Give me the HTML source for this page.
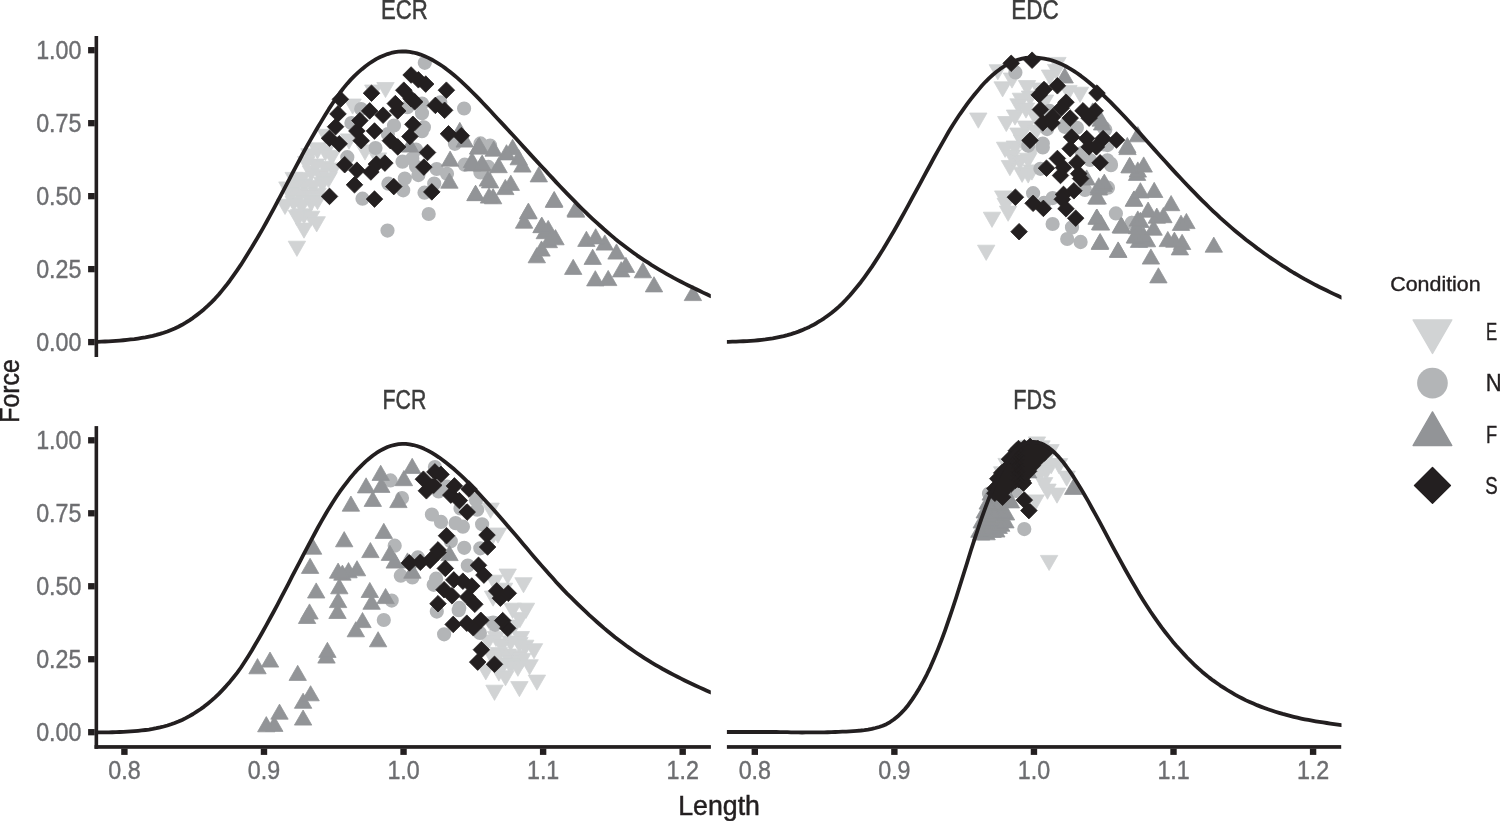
<!DOCTYPE html>
<html><head><meta charset="utf-8"><title>Force-Length</title>
<style>html,body{margin:0;padding:0;background:#fff;overflow:hidden}svg{display:block;will-change:transform}text{font-family:"Liberation Sans",sans-serif}</style></head><body>
<svg width="1500" height="821" viewBox="0 0 1500 821">
<rect width="1500" height="821" fill="#fff"/>
<defs><clipPath id="cl"><rect x="96.5" y="0" width="614.3" height="821"/></clipPath><clipPath id="cr"><rect x="726.9" y="0" width="614.6" height="821"/></clipPath></defs>
<g id="ECR">
<path fill="#d1d3d4" stroke="#d1d3d4" stroke-width="0.8" stroke-linejoin="round" d="M317.5 159.1L326.2 143.9L308.7 143.9ZM325.4 160.7L334.1 145.5L316.6 145.5ZM331.7 165.4L340.5 150.3L323.0 150.3ZM309.6 163.8L318.3 148.7L300.8 148.7ZM306.4 171.7L315.1 156.6L297.6 156.6ZM315.9 174.1L324.6 159.0L307.1 159.0ZM325.4 176.5L334.1 161.3L316.6 161.3ZM333.3 178.1L342.0 162.9L324.5 162.9ZM311.1 181.2L319.9 166.1L302.4 166.1ZM287.4 197.1L296.2 181.9L278.7 181.9ZM295.3 195.5L304.1 180.3L286.6 180.3ZM304.0 193.9L312.8 178.7L295.3 178.7ZM312.7 195.5L321.5 180.3L304.0 180.3ZM322.2 192.3L331.0 177.2L313.5 177.2ZM328.5 187.6L337.3 172.4L319.8 172.4ZM290.6 203.4L299.3 188.2L281.8 188.2ZM300.1 203.4L308.8 188.2L291.3 188.2ZM309.6 205.0L318.3 189.8L300.8 189.8ZM317.5 203.4L326.2 188.2L308.7 188.2ZM285.0 214.5L293.8 199.3L276.3 199.3ZM293.7 211.3L302.5 196.2L285.0 196.2ZM301.6 214.5L310.4 199.3L292.9 199.3ZM311.1 211.3L319.9 196.2L302.4 196.2ZM317.5 209.7L326.2 194.6L308.7 194.6ZM296.9 225.5L305.6 210.4L288.2 210.4ZM304.0 224.0L312.8 208.8L295.3 208.8ZM311.1 226.3L319.9 211.2L302.4 211.2ZM316.7 231.9L325.4 216.7L307.9 216.7ZM304.0 238.2L312.8 223.1L295.3 223.1ZM299.3 224.8L308.0 209.6L290.5 209.6ZM296.9 256.4L305.6 241.2L288.2 241.2ZM320.6 184.4L329.4 169.3L311.9 169.3ZM301.6 187.6L310.4 172.4L292.9 172.4ZM293.7 187.6L302.5 172.4L285.0 172.4ZM385.5 97.6L394.2 82.5L376.8 82.5ZM352.6 114.1L361.3 99.0L343.9 99.0ZM373.3 100.1L382.0 85.0L364.6 85.0ZM325.8 144.5L334.5 129.3L317.1 129.3ZM317.3 157.9L326.0 142.8L308.6 142.8ZM349.0 149.1L357.7 133.9L340.3 133.9ZM365.0 160.1L373.7 144.9L356.3 144.9ZM378.0 168.1L386.7 152.9L369.3 152.9Z"/>
<path fill="#b3b5b7" d="M417.7 62.8a7.1 7.1 0 1 0 14.2 0a7.1 7.1 0 1 0 -14.2 0ZM457.0 108.5a7.1 7.1 0 1 0 14.2 0a7.1 7.1 0 1 0 -14.2 0ZM354.1 109.1a7.1 7.1 0 1 0 14.2 0a7.1 7.1 0 1 0 -14.2 0ZM344.3 123.1a7.1 7.1 0 1 0 14.2 0a7.1 7.1 0 1 0 -14.2 0ZM400.3 107.2a7.1 7.1 0 1 0 14.2 0a7.1 7.1 0 1 0 -14.2 0ZM414.9 103.6a7.1 7.1 0 1 0 14.2 0a7.1 7.1 0 1 0 -14.2 0ZM414.9 113.3a7.1 7.1 0 1 0 14.2 0a7.1 7.1 0 1 0 -14.2 0ZM416.8 127.3a7.1 7.1 0 1 0 14.2 0a7.1 7.1 0 1 0 -14.2 0ZM386.9 125.5a7.1 7.1 0 1 0 14.2 0a7.1 7.1 0 1 0 -14.2 0ZM380.8 134.0a7.1 7.1 0 1 0 14.2 0a7.1 7.1 0 1 0 -14.2 0ZM368.4 148.0a7.1 7.1 0 1 0 14.2 0a7.1 7.1 0 1 0 -14.2 0ZM433.2 102.4a7.1 7.1 0 1 0 14.2 0a7.1 7.1 0 1 0 -14.2 0ZM447.8 143.8a7.1 7.1 0 1 0 14.2 0a7.1 7.1 0 1 0 -14.2 0ZM421.6 214.0a7.1 7.1 0 1 0 14.2 0a7.1 7.1 0 1 0 -14.2 0ZM380.4 230.6a7.1 7.1 0 1 0 14.2 0a7.1 7.1 0 1 0 -14.2 0ZM355.4 198.7a7.1 7.1 0 1 0 14.2 0a7.1 7.1 0 1 0 -14.2 0ZM381.3 183.7a7.1 7.1 0 1 0 14.2 0a7.1 7.1 0 1 0 -14.2 0ZM396.1 190.3a7.1 7.1 0 1 0 14.2 0a7.1 7.1 0 1 0 -14.2 0ZM397.7 178.5a7.1 7.1 0 1 0 14.2 0a7.1 7.1 0 1 0 -14.2 0ZM417.4 192.7a7.1 7.1 0 1 0 14.2 0a7.1 7.1 0 1 0 -14.2 0ZM340.2 157.2a7.1 7.1 0 1 0 14.2 0a7.1 7.1 0 1 0 -14.2 0ZM395.4 161.7a7.1 7.1 0 1 0 14.2 0a7.1 7.1 0 1 0 -14.2 0ZM405.2 158.6a7.1 7.1 0 1 0 14.2 0a7.1 7.1 0 1 0 -14.2 0ZM408.9 166.5a7.1 7.1 0 1 0 14.2 0a7.1 7.1 0 1 0 -14.2 0ZM411.3 175.1a7.1 7.1 0 1 0 14.2 0a7.1 7.1 0 1 0 -14.2 0ZM429.6 169.0a7.1 7.1 0 1 0 14.2 0a7.1 7.1 0 1 0 -14.2 0ZM439.9 173.8a7.1 7.1 0 1 0 14.2 0a7.1 7.1 0 1 0 -14.2 0ZM427.1 183.6a7.1 7.1 0 1 0 14.2 0a7.1 7.1 0 1 0 -14.2 0ZM457.6 164.7a7.1 7.1 0 1 0 14.2 0a7.1 7.1 0 1 0 -14.2 0ZM473.4 143.4a7.1 7.1 0 1 0 14.2 0a7.1 7.1 0 1 0 -14.2 0ZM473.4 171.4a7.1 7.1 0 1 0 14.2 0a7.1 7.1 0 1 0 -14.2 0ZM414.9 131.2a7.1 7.1 0 1 0 14.2 0a7.1 7.1 0 1 0 -14.2 0ZM408.9 149.5a7.1 7.1 0 1 0 14.2 0a7.1 7.1 0 1 0 -14.2 0ZM473.3 143.7a7.1 7.1 0 1 0 14.2 0a7.1 7.1 0 1 0 -14.2 0ZM483.0 145.6a7.1 7.1 0 1 0 14.2 0a7.1 7.1 0 1 0 -14.2 0ZM481.2 166.9a7.1 7.1 0 1 0 14.2 0a7.1 7.1 0 1 0 -14.2 0ZM473.3 172.4a7.1 7.1 0 1 0 14.2 0a7.1 7.1 0 1 0 -14.2 0Z"/>
<path fill="#929497" stroke="#929497" stroke-width="0.8" stroke-linejoin="round" d="M459.8 122.3L468.5 137.5L451.1 137.5ZM479.3 137.5L488.0 152.7L470.6 152.7ZM464.7 131.9L473.4 147.1L456.0 147.1ZM409.9 136.9L418.6 152.1L401.2 152.1ZM450.1 151.1L458.8 166.2L441.4 166.2ZM449.4 173.0L458.1 188.2L440.7 188.2ZM475.6 185.2L484.3 200.4L466.9 200.4ZM472.0 152.3L480.7 167.5L463.3 167.5ZM481.7 155.9L490.4 171.1L473.0 171.1ZM478.1 138.9L486.8 154.1L469.4 154.1ZM487.8 170.9L496.5 186.1L479.1 186.1ZM489.0 187.9L497.7 203.1L480.3 203.1ZM478.5 138.6L487.2 153.8L469.8 153.8ZM493.7 141.1L502.4 156.2L485.0 156.2ZM512.6 139.3L521.3 154.5L503.9 154.5ZM506.5 144.7L515.2 159.9L497.8 159.9ZM518.7 149.6L527.4 164.8L510.0 164.8ZM522.4 156.9L531.1 172.1L513.7 172.1ZM482.2 155.1L490.9 170.2L473.5 170.2ZM498.6 157.5L507.3 172.7L489.9 172.7ZM472.4 155.7L481.1 170.9L463.7 170.9ZM538.8 166.7L547.5 181.9L530.1 181.9ZM490.1 172.7L498.8 187.9L481.4 187.9ZM510.8 175.2L519.5 190.4L502.1 190.4ZM505.3 179.4L514.0 194.6L496.6 194.6ZM475.5 185.5L484.2 200.7L466.8 200.7ZM493.1 188.6L501.8 203.8L484.4 203.8ZM554.0 192.2L562.7 207.4L545.3 207.4ZM528.5 203.2L537.2 218.4L519.8 218.4ZM576.0 202.0L584.7 217.2L567.3 217.2ZM541.9 217.2L550.6 232.4L533.2 232.4ZM528.1 203.7L536.8 218.9L519.4 218.9ZM554.2 191.4L562.9 206.6L545.5 206.6ZM575.6 201.0L584.3 216.2L566.9 216.2ZM524.1 213.1L532.8 228.2L515.4 228.2ZM541.5 217.5L550.2 232.7L532.8 232.7ZM548.2 220.4L556.9 235.6L539.5 235.6ZM544.8 223.5L553.5 238.7L536.1 238.7ZM555.5 229.6L564.2 244.8L546.8 244.8ZM548.8 232.5L557.5 247.7L540.1 247.7ZM541.5 240.9L550.2 256.1L532.8 256.1ZM536.8 247.6L545.5 262.8L528.1 262.8ZM586.4 231.2L595.1 246.4L577.7 246.4ZM595.7 228.7L604.4 243.9L587.0 243.9ZM604.8 234.9L613.5 250.1L596.1 250.1ZM616.5 243.9L625.2 259.1L607.8 259.1ZM592.7 249.2L601.4 264.4L584.0 264.4ZM573.2 259.3L581.9 274.4L564.5 274.4ZM625.9 257.3L634.6 272.4L617.2 272.4ZM621.2 261.7L629.9 276.9L612.5 276.9ZM595.3 270.7L604.0 285.9L586.6 285.9ZM608.2 270.4L616.9 285.6L599.5 285.6ZM642.9 262.6L651.6 277.8L634.2 277.8ZM654.0 276.7L662.7 291.9L645.3 291.9ZM692.9 285.4L701.6 300.6L684.2 300.6Z"/>
<path fill="#231f20" stroke="#231f20" stroke-width="0.8" stroke-linejoin="round" d="M340.4 91.0L348.7 99.3L340.4 107.6L332.1 99.3ZM371.5 84.9L379.8 93.2L371.5 101.5L363.2 93.2ZM338.0 105.6L346.3 113.9L338.0 122.2L329.7 113.9ZM335.6 118.4L343.9 126.7L335.6 135.0L327.3 126.7ZM329.5 130.0L337.8 138.3L329.5 146.6L321.2 138.3ZM339.2 135.5L347.5 143.8L339.2 152.1L330.9 143.8ZM369.7 102.6L378.0 110.9L369.7 119.2L361.4 110.9ZM359.9 112.3L368.2 120.6L359.9 128.9L351.6 120.6ZM383.1 106.9L391.4 115.2L383.1 123.5L374.8 115.2ZM356.9 122.7L365.2 131.0L356.9 139.3L348.6 131.0ZM374.5 122.7L382.8 131.0L374.5 139.3L366.2 131.0ZM361.2 132.4L369.5 140.7L361.2 149.0L352.9 140.7ZM411.1 66.7L419.4 75.0L411.1 83.3L402.8 75.0ZM418.4 71.5L426.7 79.8L418.4 88.1L410.1 79.8ZM425.7 75.8L434.0 84.1L425.7 92.4L417.4 84.1ZM403.8 81.9L412.1 90.2L403.8 98.5L395.5 90.2ZM411.1 90.4L419.4 98.7L411.1 107.0L402.8 98.7ZM395.3 95.3L403.6 103.6L395.3 111.9L387.0 103.6ZM397.7 102.6L406.0 110.9L397.7 119.2L389.4 110.9ZM414.7 93.5L423.0 101.8L414.7 110.1L406.4 101.8ZM446.4 81.9L454.7 90.2L446.4 98.5L438.1 90.2ZM435.4 97.1L443.7 105.4L435.4 113.7L427.1 105.4ZM444.6 102.0L452.9 110.3L444.6 118.6L436.3 110.3ZM412.9 116.0L421.2 124.3L412.9 132.6L404.6 124.3ZM409.9 128.2L418.2 136.5L409.9 144.8L401.6 136.5ZM390.4 132.4L398.7 140.7L390.4 149.0L382.1 140.7ZM397.7 138.6L406.0 146.9L397.7 155.2L389.4 146.9ZM448.5 125.5L456.8 133.8L448.5 142.1L440.2 133.8ZM461.3 127.4L469.6 135.7L461.3 144.0L453.0 135.7ZM427.5 144.2L435.8 152.5L427.5 160.8L419.2 152.5ZM329.5 188.1L337.8 196.4L329.5 204.7L321.2 196.4ZM354.5 176.5L362.8 184.8L354.5 193.1L346.2 184.8ZM374.5 190.8L382.8 199.1L374.5 207.4L366.2 199.1ZM393.8 178.3L402.1 186.6L393.8 194.9L385.5 186.6ZM431.8 183.6L440.1 191.9L431.8 200.2L423.5 191.9ZM344.7 156.4L353.0 164.7L344.7 173.0L336.4 164.7ZM356.9 161.9L365.2 170.2L356.9 178.5L348.6 170.2ZM370.9 163.7L379.2 172.0L370.9 180.3L362.6 172.0ZM376.4 155.8L384.7 164.1L376.4 172.4L368.1 164.1ZM384.9 154.8L393.2 163.1L384.9 171.4L376.6 163.1ZM423.9 158.8L432.2 167.1L423.9 175.4L415.6 167.1Z"/>
<path d="M94.0 341.92L97.7 341.82L101.3 341.66L105.0 341.49L108.7 341.29L112.3 341.08L116.0 340.83L119.7 340.56L123.4 340.24L127.0 339.88L130.7 339.47L134.4 339.04L138.0 338.54L141.7 337.98L145.4 337.34L149.0 336.62L152.7 335.81L156.4 334.89L160.0 333.86L163.7 332.71L167.4 331.42L171.1 329.98L174.7 328.49L178.4 326.74L182.1 324.79L185.7 322.67L189.4 320.35L193.1 317.82L196.7 315.11L200.4 312.26L204.1 309.19L207.7 305.89L211.4 302.34L215.1 298.55L218.8 294.53L222.4 290.14L226.1 285.55L229.8 280.72L233.4 275.67L237.1 270.39L240.8 264.89L244.4 259.19L248.1 253.27L251.8 247.34L255.4 241.24L259.1 234.99L262.8 228.58L266.5 222.05L270.1 215.42L273.8 208.60L277.5 201.71L281.1 194.78L284.8 187.81L288.5 180.83L292.1 173.86L295.8 166.91L299.5 160.00L303.1 153.16L306.8 146.44L310.5 139.90L314.2 133.50L317.8 127.24L321.5 121.12L325.2 115.04L328.8 109.15L332.5 103.47L336.2 98.11L339.8 93.01L343.5 88.15L347.2 83.65L350.8 79.62L354.5 75.87L358.2 72.41L361.9 69.18L365.5 66.19L369.2 63.51L372.9 61.07L376.5 58.88L380.2 56.99L383.9 55.42L387.5 54.06L391.2 52.96L394.9 52.16L398.5 51.65L402.2 51.43L405.9 51.51L409.6 51.88L413.2 52.52L416.9 53.42L420.6 54.57L424.2 55.98L427.9 57.62L431.6 59.48L435.2 61.55L438.9 63.81L442.6 66.26L446.2 68.89L449.9 71.75L453.6 74.76L457.3 77.91L460.9 81.19L464.6 84.60L468.3 88.12L471.9 91.73L475.6 95.38L479.3 99.12L482.9 102.94L486.6 106.82L490.3 110.75L493.9 114.74L497.6 118.71L501.3 122.64L505.0 126.60L508.6 130.58L512.3 134.57L516.0 138.57L519.6 142.57L523.3 146.59L527.0 150.62L530.6 154.63L534.3 158.62L538.0 162.59L541.6 166.53L545.3 170.43L549.0 174.43L552.7 178.41L556.3 182.35L560.0 186.24L563.7 190.09L567.3 193.88L571.0 197.63L574.7 201.38L578.3 205.08L582.0 208.73L585.7 212.31L589.3 215.83L593.0 219.30L596.7 222.69L600.4 226.01L604.0 229.27L607.7 232.47L611.4 235.60L615.0 238.67L618.7 241.67L622.4 244.58L626.0 247.35L629.7 250.07L633.4 252.72L637.0 255.31L640.7 257.84L644.4 260.30L648.1 262.71L651.7 265.05L655.4 267.33L659.1 269.55L662.7 271.71L666.4 273.82L670.1 275.87L673.7 277.90L677.4 279.87L681.1 281.79L684.7 283.66L688.4 285.49L692.1 287.26L695.8 288.98L699.4 290.81L703.1 292.60L706.8 294.34L710.4 296.04L714.1 297.53" fill="none" stroke="#231f20" stroke-width="3.8" stroke-linejoin="round" clip-path="url(#cl)"/>
</g>
<g id="EDC">
<path fill="#d1d3d4" stroke="#d1d3d4" stroke-width="0.8" stroke-linejoin="round" d="M1057.4 72.5L1066.1 57.4L1048.7 57.4ZM997.8 79.8L1006.5 64.7L989.1 64.7ZM1056.2 79.5L1064.9 64.4L1047.5 64.4ZM1002.6 96.9L1011.3 81.8L993.9 81.8ZM1027.0 95.7L1035.7 80.5L1018.3 80.5ZM1080.0 102.4L1088.7 87.2L1071.3 87.2ZM1068.4 100.5L1077.1 85.4L1059.7 85.4ZM1020.9 108.4L1029.6 93.2L1012.2 93.2ZM1018.5 113.9L1027.2 98.8L1009.8 98.8ZM1026.0 118.1L1034.7 103.0L1017.3 103.0ZM978.3 128.2L987.0 113.0L969.6 113.0ZM1006.3 131.6L1015.0 116.5L997.6 116.5ZM1025.8 136.1L1034.5 121.0L1017.1 121.0ZM1018.5 143.1L1027.2 128.0L1009.8 128.0ZM1039.2 98.1L1047.9 83.0L1030.5 83.0ZM1005.1 157.4L1013.8 142.2L996.4 142.2ZM1014.8 156.2L1023.5 141.0L1006.1 141.0ZM1019.7 144.1L1028.4 128.9L1011.0 128.9ZM1028.2 168.4L1036.9 153.2L1019.5 153.2ZM1009.9 175.7L1018.6 160.5L1001.2 160.5ZM1022.1 182.4L1030.8 167.2L1013.4 167.2ZM1028.2 183.1L1036.9 167.9L1019.5 167.9ZM1031.9 180.1L1040.6 164.9L1023.2 164.9ZM1003.2 206.1L1011.9 190.9L994.5 190.9ZM1005.7 213.4L1014.4 198.2L997.0 198.2ZM1008.1 221.3L1016.8 206.1L999.4 206.1ZM992.0 227.4L1000.7 212.2L983.3 212.2ZM986.2 260.4L994.9 245.2L977.5 245.2ZM1012.0 88.1L1020.7 73.0L1003.3 73.0ZM1030.0 106.1L1038.7 91.0L1021.3 91.0ZM1035.0 125.1L1043.7 110.0L1026.3 110.0ZM1015.0 125.1L1023.7 110.0L1006.3 110.0ZM1022.0 150.1L1030.7 134.9L1013.3 134.9ZM1012.0 165.1L1020.7 149.9L1003.3 149.9ZM1032.0 160.1L1040.7 144.9L1023.3 144.9ZM1036.0 140.1L1044.7 125.0L1027.3 125.0ZM1045.0 110.1L1053.7 95.0L1036.3 95.0ZM1050.0 85.1L1058.7 70.0L1041.3 70.0ZM1020.0 170.1L1028.7 154.9L1011.3 154.9Z"/>
<path fill="#b3b5b7" d="M1008.3 72.4a7.1 7.1 0 1 0 14.2 0a7.1 7.1 0 1 0 -14.2 0ZM1042.4 110.8a7.1 7.1 0 1 0 14.2 0a7.1 7.1 0 1 0 -14.2 0ZM1058.9 124.2a7.1 7.1 0 1 0 14.2 0a7.1 7.1 0 1 0 -14.2 0ZM1040.0 129.0a7.1 7.1 0 1 0 14.2 0a7.1 7.1 0 1 0 -14.2 0ZM1035.7 143.6a7.1 7.1 0 1 0 14.2 0a7.1 7.1 0 1 0 -14.2 0ZM1096.6 127.8a7.1 7.1 0 1 0 14.2 0a7.1 7.1 0 1 0 -14.2 0ZM1069.8 127.8a7.1 7.1 0 1 0 14.2 0a7.1 7.1 0 1 0 -14.2 0ZM1021.1 145.7a7.1 7.1 0 1 0 14.2 0a7.1 7.1 0 1 0 -14.2 0ZM1035.7 147.5a7.1 7.1 0 1 0 14.2 0a7.1 7.1 0 1 0 -14.2 0ZM1033.3 168.8a7.1 7.1 0 1 0 14.2 0a7.1 7.1 0 1 0 -14.2 0ZM1026.0 193.2a7.1 7.1 0 1 0 14.2 0a7.1 7.1 0 1 0 -14.2 0ZM1045.5 198.1a7.1 7.1 0 1 0 14.2 0a7.1 7.1 0 1 0 -14.2 0ZM1036.9 203.0a7.1 7.1 0 1 0 14.2 0a7.1 7.1 0 1 0 -14.2 0ZM1045.5 224.0a7.1 7.1 0 1 0 14.2 0a7.1 7.1 0 1 0 -14.2 0ZM1100.3 160.3a7.1 7.1 0 1 0 14.2 0a7.1 7.1 0 1 0 -14.2 0ZM1103.9 165.2a7.1 7.1 0 1 0 14.2 0a7.1 7.1 0 1 0 -14.2 0ZM1100.9 187.7a7.1 7.1 0 1 0 14.2 0a7.1 7.1 0 1 0 -14.2 0ZM1108.8 213.4a7.1 7.1 0 1 0 14.2 0a7.1 7.1 0 1 0 -14.2 0ZM1096.6 144.5a7.1 7.1 0 1 0 14.2 0a7.1 7.1 0 1 0 -14.2 0ZM1074.7 153.0a7.1 7.1 0 1 0 14.2 0a7.1 7.1 0 1 0 -14.2 0ZM1124.9 223.0a7.1 7.1 0 1 0 14.2 0a7.1 7.1 0 1 0 -14.2 0ZM1057.6 126.8a7.1 7.1 0 1 0 14.2 0a7.1 7.1 0 1 0 -14.2 0ZM1064.9 227.4a7.1 7.1 0 1 0 14.2 0a7.1 7.1 0 1 0 -14.2 0ZM1060.1 239.0a7.1 7.1 0 1 0 14.2 0a7.1 7.1 0 1 0 -14.2 0ZM1073.5 242.0a7.1 7.1 0 1 0 14.2 0a7.1 7.1 0 1 0 -14.2 0ZM1124.5 222.9a7.1 7.1 0 1 0 14.2 0a7.1 7.1 0 1 0 -14.2 0ZM1103.7 163.7a7.1 7.1 0 1 0 14.2 0a7.1 7.1 0 1 0 -14.2 0ZM1100.4 187.8a7.1 7.1 0 1 0 14.2 0a7.1 7.1 0 1 0 -14.2 0ZM1098.2 129.7a7.1 7.1 0 1 0 14.2 0a7.1 7.1 0 1 0 -14.2 0ZM1100.4 145.0a7.1 7.1 0 1 0 14.2 0a7.1 7.1 0 1 0 -14.2 0ZM1082.9 160.0a7.1 7.1 0 1 0 14.2 0a7.1 7.1 0 1 0 -14.2 0ZM1077.9 190.0a7.1 7.1 0 1 0 14.2 0a7.1 7.1 0 1 0 -14.2 0Z"/>
<path fill="#929497" stroke="#929497" stroke-width="0.8" stroke-linejoin="round" d="M1064.7 67.9L1073.4 83.0L1056.0 83.0ZM1100.7 111.1L1109.4 126.2L1092.0 126.2ZM1137.9 126.6L1146.6 141.8L1129.2 141.8ZM1092.7 102.9L1101.4 118.0L1084.0 118.0ZM1127.5 139.4L1136.2 154.6L1118.8 154.6ZM1129.9 157.6L1138.6 172.8L1121.2 172.8ZM1137.8 161.9L1146.5 177.1L1129.1 177.1ZM1098.8 177.7L1107.5 192.9L1090.1 192.9ZM1104.3 174.1L1113.0 189.2L1095.6 189.2ZM1096.4 188.8L1105.1 204.0L1087.7 204.0ZM1086.7 169.9L1095.4 185.1L1078.0 185.1ZM1097.0 209.1L1105.7 224.2L1088.3 224.2ZM1134.2 190.9L1142.9 206.1L1125.5 206.1ZM1122.0 217.9L1130.7 233.1L1113.3 233.1ZM1137.8 210.9L1146.5 226.1L1129.1 226.1ZM1100.1 214.5L1108.8 229.7L1091.4 229.7ZM1100.1 233.4L1108.8 248.6L1091.4 248.6ZM1118.3 242.3L1127.0 257.4L1109.6 257.4ZM1121.4 217.3L1130.1 232.5L1112.7 232.5ZM1135.4 227.9L1144.1 243.1L1126.7 243.1ZM1139.0 232.2L1147.7 247.4L1130.3 247.4ZM1127.3 137.4L1136.0 152.6L1118.6 152.6ZM1129.5 157.5L1138.2 172.7L1120.8 172.7ZM1143.7 156.9L1152.4 172.1L1135.0 172.1ZM1137.1 165.2L1145.8 180.4L1128.4 180.4ZM1140.4 182.7L1149.1 197.9L1131.7 197.9ZM1154.2 182.3L1162.9 197.5L1145.5 197.5ZM1133.8 191.1L1142.5 206.2L1125.1 206.2ZM1171.1 195.5L1179.8 210.7L1162.4 210.7ZM1148.1 202.0L1156.8 217.2L1139.4 217.2ZM1156.8 208.0L1165.5 223.2L1148.1 223.2ZM1163.4 207.5L1172.1 222.7L1154.7 222.7ZM1140.4 212.3L1149.1 227.5L1131.7 227.5ZM1186.4 213.4L1195.1 228.6L1177.7 228.6ZM1181.0 215.2L1189.7 230.4L1172.3 230.4ZM1120.7 217.8L1129.4 233.0L1112.0 233.0ZM1153.6 220.0L1162.3 235.2L1144.9 235.2ZM1137.1 218.5L1145.8 233.7L1128.4 233.7ZM1143.7 227.2L1152.4 242.4L1135.0 242.4ZM1147.0 231.6L1155.7 246.8L1138.3 246.8ZM1134.9 227.7L1143.6 242.9L1126.2 242.9ZM1167.8 231.4L1176.5 246.6L1159.1 246.6ZM1174.4 232.1L1183.1 247.2L1165.7 247.2ZM1182.1 234.3L1190.8 249.5L1173.4 249.5ZM1179.9 239.7L1188.6 254.9L1171.2 254.9ZM1213.8 237.1L1222.5 252.2L1205.1 252.2ZM1099.9 234.3L1108.6 249.5L1091.2 249.5ZM1118.1 241.9L1126.8 257.1L1109.4 257.1ZM1150.9 248.9L1159.6 264.1L1142.2 264.1ZM1158.4 267.8L1167.1 282.9L1149.7 282.9ZM1096.6 209.1L1105.3 224.2L1087.9 224.2ZM1101.0 214.9L1109.7 230.1L1092.3 230.1ZM1097.7 188.9L1106.4 204.1L1089.0 204.1ZM1103.2 176.2L1111.9 191.4L1094.5 191.4ZM1098.8 179.9L1107.5 195.1L1090.1 195.1ZM1102.1 114.8L1110.8 130.0L1093.4 130.0Z"/>
<path fill="#231f20" stroke="#231f20" stroke-width="0.8" stroke-linejoin="round" d="M1011.2 55.0L1019.5 63.3L1011.2 71.6L1002.9 63.3ZM1032.1 51.9L1040.4 60.2L1032.1 68.5L1023.8 60.2ZM1097.0 84.8L1105.3 93.1L1097.0 101.4L1088.7 93.1ZM1057.4 77.5L1065.7 85.8L1057.4 94.1L1049.1 85.8ZM1044.0 81.2L1052.3 89.5L1044.0 97.8L1035.7 89.5ZM1039.2 86.6L1047.5 94.9L1039.2 103.2L1030.9 94.9ZM1066.0 93.9L1074.3 102.2L1066.0 110.5L1057.7 102.2ZM1061.1 100.0L1069.4 108.3L1061.1 116.6L1052.8 108.3ZM1040.4 101.2L1048.7 109.5L1040.4 117.8L1032.1 109.5ZM1083.0 102.5L1091.3 110.8L1083.0 119.1L1074.7 110.8ZM1095.2 102.5L1103.5 110.8L1095.2 119.1L1086.9 110.8ZM1070.2 109.8L1078.5 118.1L1070.2 126.4L1061.9 118.1ZM1089.1 109.8L1097.4 118.1L1089.1 126.4L1080.8 118.1ZM1052.6 108.6L1060.9 116.9L1052.6 125.2L1044.3 116.9ZM1042.8 114.6L1051.1 122.9L1042.8 131.2L1034.5 122.9ZM1052.0 114.7L1060.3 123.0L1052.0 131.3L1043.7 123.0ZM1030.0 132.1L1038.3 140.4L1030.0 148.7L1021.7 140.4ZM1071.6 128.8L1079.9 137.1L1071.6 145.4L1063.3 137.1ZM1086.7 130.3L1095.0 138.6L1086.7 146.9L1078.4 138.6ZM1103.1 130.3L1111.4 138.6L1103.1 146.9L1094.8 138.6ZM1116.5 131.7L1124.8 140.0L1116.5 148.3L1108.2 140.0ZM1070.2 140.4L1078.5 148.7L1070.2 157.0L1061.9 148.7ZM1089.1 138.6L1097.4 146.9L1089.1 155.2L1080.8 146.9ZM1096.4 138.6L1104.7 146.9L1096.4 155.2L1088.1 146.9ZM1057.4 150.2L1065.7 158.5L1057.4 166.8L1049.1 158.5ZM1076.9 154.5L1085.2 162.8L1076.9 171.1L1068.6 162.8ZM1100.1 154.5L1108.4 162.8L1100.1 171.1L1091.8 162.8ZM1046.5 159.9L1054.8 168.2L1046.5 176.5L1038.2 168.2ZM1063.5 159.3L1071.8 167.6L1063.5 175.9L1055.2 167.6ZM1060.5 167.2L1068.8 175.5L1060.5 183.8L1052.2 175.5ZM1078.7 165.4L1087.0 173.7L1078.7 182.0L1070.4 173.7ZM1080.6 170.3L1088.9 178.6L1080.6 186.9L1072.3 178.6ZM1015.4 188.9L1023.7 197.2L1015.4 205.5L1007.1 197.2ZM1073.9 182.5L1082.2 190.8L1073.9 199.1L1065.6 190.8ZM1063.5 186.1L1071.8 194.4L1063.5 202.7L1055.2 194.4ZM1062.3 191.0L1070.6 199.3L1062.3 207.6L1054.0 199.3ZM1033.1 195.0L1041.4 203.3L1033.1 211.6L1024.8 203.3ZM1043.4 200.1L1051.7 208.4L1043.4 216.7L1035.1 208.4ZM1066.0 200.5L1074.3 208.8L1066.0 217.1L1057.7 208.8ZM1075.7 209.9L1084.0 218.2L1075.7 226.5L1067.4 218.2ZM1019.1 223.4L1027.4 231.7L1019.1 240.0L1010.8 231.7Z"/>
<path d="M725.0 341.88L728.7 341.80L732.3 341.70L736.0 341.58L739.7 341.44L743.3 341.26L747.0 341.05L750.7 340.82L754.4 340.56L758.0 340.24L761.7 339.87L765.4 339.44L769.0 338.93L772.7 338.35L776.4 337.68L780.0 336.95L783.7 336.12L787.4 335.18L791.0 334.12L794.7 332.93L798.4 331.61L802.1 330.14L805.7 328.61L809.4 326.91L813.1 325.04L816.7 322.99L820.4 320.74L824.1 318.31L827.7 315.69L831.4 312.94L835.1 309.98L838.7 306.81L842.4 303.30L846.1 299.50L849.8 295.49L853.4 291.27L857.1 286.84L860.8 282.21L864.4 277.31L868.1 272.17L871.8 266.85L875.4 261.34L879.1 255.62L882.8 249.72L886.4 243.68L890.1 237.50L893.8 231.19L897.5 224.78L901.1 218.27L904.8 211.62L908.5 204.90L912.1 198.13L915.8 191.34L919.5 184.55L923.1 177.77L926.8 171.03L930.5 164.24L934.1 157.52L937.8 150.89L941.5 144.32L945.2 137.87L948.8 131.56L952.5 125.45L956.2 119.79L959.8 114.31L963.5 109.04L967.2 103.98L970.8 99.14L974.5 94.53L978.2 90.11L981.8 85.83L985.5 81.82L989.2 78.08L992.9 74.73L996.5 71.69L1000.2 68.94L1003.9 66.49L1007.5 64.33L1011.2 62.47L1014.9 60.91L1018.5 59.64L1022.2 58.66L1025.9 57.97L1029.5 57.57L1033.2 57.45L1036.9 57.64L1040.6 58.07L1044.2 58.56L1047.9 59.30L1051.6 60.28L1055.2 61.50L1058.9 62.96L1062.6 64.63L1066.2 66.50L1069.9 68.57L1073.6 70.82L1077.2 73.25L1080.9 75.91L1084.6 78.73L1088.3 81.69L1091.9 84.79L1095.6 88.00L1099.3 91.32L1102.9 94.75L1106.6 98.30L1110.3 101.92L1113.9 105.62L1117.6 109.38L1121.3 113.21L1124.9 117.08L1128.6 121.02L1132.3 125.01L1136.0 129.04L1139.6 133.09L1143.3 137.15L1147.0 141.21L1150.6 145.28L1154.3 149.37L1158.0 153.46L1161.6 157.53L1165.3 161.59L1169.0 165.62L1172.6 169.62L1176.3 173.59L1180.0 177.54L1183.7 181.46L1187.3 185.33L1191.0 189.16L1194.7 192.94L1198.3 196.68L1202.0 200.36L1205.7 203.97L1209.3 207.52L1213.0 211.02L1216.7 214.46L1220.3 217.85L1224.0 221.17L1227.7 224.43L1231.4 227.60L1235.0 230.71L1238.7 233.77L1242.4 236.75L1246.0 239.68L1249.7 242.54L1253.4 245.35L1257.0 248.12L1260.7 250.83L1264.4 253.47L1268.0 256.05L1271.7 258.57L1275.4 261.03L1279.1 263.47L1282.7 265.87L1286.4 268.22L1290.1 270.52L1293.7 272.75L1297.4 274.93L1301.1 277.05L1304.7 279.13L1308.4 281.16L1312.1 283.14L1315.7 285.07L1319.4 286.94L1323.1 288.77L1326.8 290.55L1330.4 292.35L1334.1 294.11L1337.8 295.82L1341.4 297.49L1345.1 298.95" fill="none" stroke="#231f20" stroke-width="3.8" stroke-linejoin="round" clip-path="url(#cr)"/>
</g>
<g id="FCR">
<path fill="#d1d3d4" stroke="#d1d3d4" stroke-width="0.8" stroke-linejoin="round" d="M490.6 518.3L499.3 503.1L481.9 503.1ZM493.1 543.9L501.8 528.8L484.4 528.8ZM507.7 584.1L516.4 569.0L499.0 569.0ZM523.5 592.8L532.2 577.7L514.8 577.7ZM494.3 590.4L503.0 575.2L485.6 575.2ZM504.0 598.3L512.7 583.2L495.3 583.2ZM493.1 606.2L501.8 591.1L484.4 591.1ZM526.0 618.4L534.7 603.2L517.3 603.2ZM512.6 618.4L521.3 603.2L503.9 603.2ZM519.9 627.7L528.6 612.6L511.2 612.6ZM490.6 631.8L499.3 616.7L481.9 616.7ZM498.0 543.1L506.7 528.0L489.3 528.0ZM494.5 700.4L503.2 685.2L485.8 685.2ZM519.4 696.7L528.1 681.6L510.7 681.6ZM536.9 690.2L545.6 675.1L528.2 675.1ZM505.5 685.8L514.2 670.7L496.8 670.7ZM485.8 679.9L494.5 664.8L477.1 664.8ZM517.9 676.3L526.6 661.2L509.2 661.2ZM529.6 674.8L538.3 659.7L520.9 659.7ZM534.0 658.8L542.7 643.7L525.3 643.7ZM498.9 681.1L507.6 666.0L490.2 666.0ZM510.6 670.1L519.3 655.0L501.9 655.0ZM501.8 653.9L510.5 638.8L493.1 638.8ZM510.6 651.0L519.3 635.9L501.9 635.9ZM519.4 652.5L528.1 637.4L510.7 637.4ZM525.2 655.4L533.9 640.2L516.5 640.2ZM498.9 662.7L507.6 647.6L490.2 647.6ZM507.7 664.2L516.4 649.1L499.0 649.1ZM516.4 665.6L525.1 650.5L507.7 650.5ZM522.3 668.5L531.0 653.4L513.6 653.4ZM501.8 672.9L510.5 657.8L493.1 657.8ZM510.6 674.4L519.3 659.2L501.9 659.2ZM520.8 646.6L529.5 631.5L512.1 631.5ZM496.0 646.6L504.7 631.5L487.3 631.5ZM508.0 640.1L516.7 625.0L499.3 625.0ZM514.0 635.1L522.7 620.0L505.3 620.0ZM488.0 650.1L496.7 635.0L479.3 635.0ZM492.0 665.1L500.7 650.0L483.3 650.0Z"/>
<path fill="#b3b5b7" d="M383.4 480.4a7.1 7.1 0 1 0 14.2 0a7.1 7.1 0 1 0 -14.2 0ZM394.9 498.1a7.1 7.1 0 1 0 14.2 0a7.1 7.1 0 1 0 -14.2 0ZM427.8 467.1a7.1 7.1 0 1 0 14.2 0a7.1 7.1 0 1 0 -14.2 0ZM424.8 514.5a7.1 7.1 0 1 0 14.2 0a7.1 7.1 0 1 0 -14.2 0ZM433.9 521.9a7.1 7.1 0 1 0 14.2 0a7.1 7.1 0 1 0 -14.2 0ZM431.5 491.4a7.1 7.1 0 1 0 14.2 0a7.1 7.1 0 1 0 -14.2 0ZM440.0 486.5a7.1 7.1 0 1 0 14.2 0a7.1 7.1 0 1 0 -14.2 0ZM448.5 523.1a7.1 7.1 0 1 0 14.2 0a7.1 7.1 0 1 0 -14.2 0ZM455.8 526.7a7.1 7.1 0 1 0 14.2 0a7.1 7.1 0 1 0 -14.2 0ZM387.6 545.7a7.1 7.1 0 1 0 14.2 0a7.1 7.1 0 1 0 -14.2 0ZM443.7 541.2a7.1 7.1 0 1 0 14.2 0a7.1 7.1 0 1 0 -14.2 0ZM457.1 547.8a7.1 7.1 0 1 0 14.2 0a7.1 7.1 0 1 0 -14.2 0ZM453.4 508.5a7.1 7.1 0 1 0 14.2 0a7.1 7.1 0 1 0 -14.2 0ZM410.8 557.4a7.1 7.1 0 1 0 14.2 0a7.1 7.1 0 1 0 -14.2 0ZM393.7 575.7a7.1 7.1 0 1 0 14.2 0a7.1 7.1 0 1 0 -14.2 0ZM405.3 577.5a7.1 7.1 0 1 0 14.2 0a7.1 7.1 0 1 0 -14.2 0ZM384.6 600.6a7.1 7.1 0 1 0 14.2 0a7.1 7.1 0 1 0 -14.2 0ZM376.7 620.0a7.1 7.1 0 1 0 14.2 0a7.1 7.1 0 1 0 -14.2 0ZM426.6 584.8a7.1 7.1 0 1 0 14.2 0a7.1 7.1 0 1 0 -14.2 0ZM429.0 578.7a7.1 7.1 0 1 0 14.2 0a7.1 7.1 0 1 0 -14.2 0ZM429.7 611.6a7.1 7.1 0 1 0 14.2 0a7.1 7.1 0 1 0 -14.2 0ZM452.2 607.9a7.1 7.1 0 1 0 14.2 0a7.1 7.1 0 1 0 -14.2 0ZM460.7 565.6a7.1 7.1 0 1 0 14.2 0a7.1 7.1 0 1 0 -14.2 0ZM468.9 499.9a7.1 7.1 0 1 0 14.2 0a7.1 7.1 0 1 0 -14.2 0ZM470.1 509.7a7.1 7.1 0 1 0 14.2 0a7.1 7.1 0 1 0 -14.2 0ZM475.0 524.3a7.1 7.1 0 1 0 14.2 0a7.1 7.1 0 1 0 -14.2 0ZM473.2 548.3a7.1 7.1 0 1 0 14.2 0a7.1 7.1 0 1 0 -14.2 0ZM486.0 622.6a7.1 7.1 0 1 0 14.2 0a7.1 7.1 0 1 0 -14.2 0ZM451.6 610.2a7.1 7.1 0 1 0 14.2 0a7.1 7.1 0 1 0 -14.2 0ZM437.0 634.3a7.1 7.1 0 1 0 14.2 0a7.1 7.1 0 1 0 -14.2 0ZM472.8 632.9a7.1 7.1 0 1 0 14.2 0a7.1 7.1 0 1 0 -14.2 0ZM488.1 624.8a7.1 7.1 0 1 0 14.2 0a7.1 7.1 0 1 0 -14.2 0Z"/>
<path fill="#929497" stroke="#929497" stroke-width="0.8" stroke-linejoin="round" d="M412.2 458.3L420.9 473.4L403.5 473.4ZM380.7 465.2L389.4 480.4L372.0 480.4ZM403.9 470.5L412.6 485.7L395.2 485.7ZM366.1 477.8L374.8 492.9L357.4 492.9ZM381.3 477.3L390.0 492.4L372.6 492.4ZM372.8 491.3L381.5 506.4L364.1 506.4ZM350.9 496.0L359.6 511.2L342.2 511.2ZM398.4 492.4L407.1 507.6L389.7 507.6ZM383.8 523.3L392.5 538.4L375.1 538.4ZM344.2 531.6L352.9 546.8L335.5 546.8ZM370.4 542.5L379.1 557.6L361.7 557.6ZM313.1 539.1L321.8 554.2L304.4 554.2ZM389.9 545.3L398.6 560.4L381.2 560.4ZM394.7 553.0L403.4 568.1L386.0 568.1ZM310.1 558.3L318.8 573.4L301.4 573.4ZM338.1 563.1L346.8 578.2L329.4 578.2ZM342.4 565.1L351.1 580.2L333.7 580.2ZM348.5 562.6L357.2 577.8L339.8 577.8ZM357.0 560.7L365.7 575.8L348.3 575.8ZM412.4 563.1L421.1 578.2L403.7 578.2ZM407.5 552.9L416.2 568.0L398.8 568.0ZM449.5 545.5L458.2 560.6L440.8 560.6ZM316.2 582.9L324.9 598.0L307.5 598.0ZM339.3 578.6L348.0 593.8L330.6 593.8ZM338.1 592.5L346.8 607.6L329.4 607.6ZM337.5 603.4L346.2 618.5L328.8 618.5ZM369.8 582.4L378.5 597.5L361.1 597.5ZM371.6 594.2L380.3 609.3L362.9 609.3ZM385.6 588.5L394.3 603.6L376.9 603.6ZM309.5 603.9L318.2 619.0L300.8 619.0ZM307.1 608.4L315.8 623.5L298.4 623.5ZM362.5 612.5L371.2 627.6L353.8 627.6ZM355.8 621.7L364.5 636.8L347.1 636.8ZM378.1 631.7L386.8 646.8L369.4 646.8ZM327.4 642.3L336.1 657.4L318.7 657.4ZM326.5 648.0L335.2 663.1L317.8 663.1ZM270.0 652.0L278.7 667.1L261.3 667.1ZM257.5 658.6L266.2 673.8L248.8 673.8ZM297.7 665.3L306.4 680.4L289.0 680.4ZM310.6 685.7L319.3 700.8L301.9 700.8ZM303.1 693.2L311.8 708.3L294.4 708.3ZM303.1 710.0L311.8 725.1L294.4 725.1ZM279.5 704.1L288.2 719.2L270.8 719.2ZM266.3 716.6L275.0 731.8L257.6 731.8ZM274.3 716.3L283.0 731.4L265.6 731.4Z"/>
<path fill="#231f20" stroke="#231f20" stroke-width="0.8" stroke-linejoin="round" d="M434.9 463.6L443.2 471.9L434.9 480.2L426.6 471.9ZM441.0 466.1L449.3 474.4L441.0 482.7L432.7 474.4ZM423.4 470.9L431.7 479.2L423.4 487.5L415.1 479.2ZM433.7 477.0L442.0 485.3L433.7 493.6L425.4 485.3ZM426.4 482.5L434.7 490.8L426.4 499.1L418.1 490.8ZM454.4 477.6L462.7 485.9L454.4 494.2L446.1 485.9ZM450.8 486.8L459.1 495.1L450.8 503.4L442.5 495.1ZM459.3 492.2L467.6 500.5L459.3 508.8L451.0 500.5ZM467.2 503.8L475.5 512.1L467.2 520.4L458.9 512.1ZM469.0 480.7L477.3 489.0L469.0 497.3L460.7 489.0ZM446.5 527.4L454.8 535.7L446.5 544.0L438.2 535.7ZM438.0 541.6L446.3 549.9L438.0 558.2L429.7 549.9ZM438.0 544.2L446.3 552.5L438.0 560.8L429.7 552.5ZM430.1 552.1L438.4 560.4L430.1 568.7L421.8 560.4ZM420.3 554.0L428.6 562.3L420.3 570.6L412.0 562.3ZM409.4 554.6L417.7 562.9L409.4 571.2L401.1 562.9ZM445.3 560.1L453.6 568.4L445.3 576.7L437.0 568.4ZM453.8 571.6L462.1 579.9L453.8 588.2L445.5 579.9ZM462.9 572.9L471.2 581.2L462.9 589.5L454.6 581.2ZM444.1 581.4L452.4 589.7L444.1 598.0L435.8 589.7ZM452.0 587.5L460.3 595.8L452.0 604.1L443.7 595.8ZM438.0 595.4L446.3 603.7L438.0 612.0L429.7 603.7ZM467.8 588.7L476.1 597.0L467.8 605.3L459.5 597.0ZM453.2 616.1L461.5 624.4L453.2 632.7L444.9 624.4ZM466.8 614.9L475.1 623.2L466.8 631.5L458.5 623.2ZM487.0 526.8L495.3 535.1L487.0 543.4L478.7 535.1ZM487.6 538.7L495.9 547.0L487.6 555.3L479.3 547.0ZM478.5 557.0L486.8 565.3L478.5 573.6L470.2 565.3ZM483.9 566.8L492.2 575.1L483.9 583.4L475.6 575.1ZM471.8 577.7L480.1 586.0L471.8 594.3L463.5 586.0ZM474.8 596.0L483.1 604.3L474.8 612.6L466.5 604.3ZM496.7 582.6L505.0 590.9L496.7 599.2L488.4 590.9ZM508.3 585.0L516.6 593.3L508.3 601.6L500.0 593.3ZM500.4 589.9L508.7 598.2L500.4 606.5L492.1 598.2ZM502.7 612.3L511.0 620.6L502.7 628.9L494.4 620.6ZM480.8 612.0L489.1 620.3L480.8 628.6L472.5 620.3ZM507.7 620.0L516.0 628.3L507.7 636.6L499.4 628.3ZM473.3 619.5L481.6 627.8L473.3 636.1L465.0 627.8ZM481.4 641.4L489.7 649.7L481.4 658.0L473.1 649.7ZM477.7 653.8L486.0 662.1L477.7 670.4L469.4 662.1ZM494.5 656.0L502.8 664.3L494.5 672.6L486.2 664.3Z"/>
<path d="M94.0 732.40L97.7 732.36L101.3 732.36L105.0 732.34L108.7 732.30L112.3 732.23L116.0 732.14L119.7 732.01L123.4 731.83L127.0 731.60L130.7 731.34L134.4 731.10L138.0 730.81L141.7 730.45L145.4 730.01L149.0 729.51L152.7 728.91L156.4 728.22L160.0 727.42L163.7 726.51L167.4 725.47L171.1 724.30L174.7 723.06L178.4 721.59L182.1 719.95L185.7 718.15L189.4 716.16L193.1 713.99L196.7 711.65L200.4 709.22L204.1 706.58L207.7 703.72L211.4 700.65L215.1 697.36L218.8 693.85L222.4 690.08L226.1 686.10L229.8 681.89L233.4 677.47L237.1 672.83L240.8 667.75L244.4 662.24L248.1 656.48L251.8 650.49L255.4 644.33L259.1 638.00L262.8 631.52L266.5 624.90L270.1 618.24L273.8 611.48L277.5 604.59L281.1 597.62L284.8 590.60L288.5 583.54L292.1 576.47L295.8 569.40L299.5 562.33L303.1 555.31L306.8 548.33L310.5 541.36L314.2 534.49L317.8 527.74L321.5 521.15L325.2 514.82L328.8 508.66L332.5 502.69L336.2 497.05L339.8 491.72L343.5 486.63L347.2 481.78L350.8 477.19L354.5 472.87L358.2 468.83L361.9 465.08L365.5 461.62L369.2 458.47L372.9 455.58L376.5 452.97L380.2 450.68L383.9 448.72L387.5 447.08L391.2 445.77L394.9 444.79L398.5 444.13L402.2 443.81L405.9 443.88L409.6 444.29L413.2 445.02L416.9 446.04L420.6 447.33L424.2 448.87L427.9 450.65L431.6 452.66L435.2 454.88L438.9 457.31L442.6 459.93L446.2 462.72L449.9 465.69L453.6 468.81L457.3 472.06L460.9 475.45L464.6 478.95L468.3 482.55L471.9 486.26L475.6 490.08L479.3 493.97L482.9 497.93L486.6 501.94L490.3 505.99L493.9 510.09L497.6 514.24L501.3 518.46L505.0 522.73L508.6 527.01L512.3 531.29L516.0 535.57L519.6 539.83L523.3 544.18L527.0 548.53L530.6 552.85L534.3 557.15L538.0 561.40L541.6 565.62L545.3 569.80L549.0 573.96L552.7 578.07L556.3 582.14L560.0 586.15L563.7 590.11L567.3 593.80L571.0 597.41L574.7 601.07L578.3 604.67L582.0 608.21L585.7 611.69L589.3 615.10L593.0 618.45L596.7 621.73L600.4 624.95L604.0 628.10L607.7 631.18L611.4 634.20L615.0 637.16L618.7 640.05L622.4 642.84L626.0 645.53L629.7 648.15L633.4 650.71L637.0 653.22L640.7 655.70L644.4 658.11L648.1 660.43L651.7 662.66L655.4 664.84L659.1 666.96L662.7 669.02L666.4 671.02L670.1 672.98L673.7 674.91L677.4 676.79L681.1 678.64L684.7 680.47L688.4 682.25L692.1 683.98L695.8 685.67L699.4 687.39L703.1 689.08L706.8 690.72L710.4 692.32L714.1 693.71" fill="none" stroke="#231f20" stroke-width="3.8" stroke-linejoin="round" clip-path="url(#cl)"/>
</g>
<g id="FDS">
<path fill="#d1d3d4" stroke="#d1d3d4" stroke-width="0.8" stroke-linejoin="round" d="M1036.9 452.1L1045.6 436.9L1028.2 436.9ZM1041.5 455.9L1050.2 440.8L1032.8 440.8ZM1050.5 459.8L1059.2 444.6L1041.8 444.6ZM1059.0 473.8L1067.7 458.6L1050.3 458.6ZM1066.7 486.2L1075.4 471.1L1058.0 471.1ZM1051.2 473.8L1059.9 458.6L1042.5 458.6ZM1044.1 492.8L1052.8 477.6L1035.4 477.6ZM1047.5 499.3L1056.2 484.1L1038.8 484.1ZM1057.0 503.2L1065.7 488.1L1048.3 488.1ZM1043.0 472.1L1051.7 456.9L1034.3 456.9ZM1040.0 482.1L1048.7 466.9L1031.3 466.9ZM1035.6 510.1L1044.3 494.9L1026.9 494.9ZM1047.0 466.1L1055.7 450.9L1038.3 450.9ZM1046.0 480.1L1054.7 464.9L1037.3 464.9ZM1006.6 473.6L1015.3 458.4L997.9 458.4ZM1002.2 481.9L1010.9 466.8L993.5 466.8ZM1029.0 455.6L1037.7 440.4L1020.3 440.4ZM1049.1 570.5L1057.8 555.4L1040.4 555.4Z"/>
<path fill="#b3b5b7" d="M1017.2 529.1a7.1 7.1 0 1 0 14.2 0a7.1 7.1 0 1 0 -14.2 0ZM1008.7 491.0a7.1 7.1 0 1 0 14.2 0a7.1 7.1 0 1 0 -14.2 0ZM981.9 493.5a7.1 7.1 0 1 0 14.2 0a7.1 7.1 0 1 0 -14.2 0ZM1007.5 490.4a7.1 7.1 0 1 0 14.2 0a7.1 7.1 0 1 0 -14.2 0Z"/>
<path fill="#929497" stroke="#929497" stroke-width="0.8" stroke-linejoin="round" d="M1073.2 479.3L1081.9 494.4L1064.5 494.4ZM1028.2 462.8L1036.9 477.9L1019.5 477.9ZM981.1 525.0L989.8 540.1L972.4 540.1ZM996.3 521.9L1005.0 537.0L987.6 537.0ZM998.7 518.3L1007.4 533.4L990.0 533.4ZM1005.4 512.8L1014.1 527.9L996.7 527.9ZM1010.9 492.7L1019.6 507.9L1002.2 507.9ZM986.6 518.6L995.3 533.8L977.9 533.8ZM990.2 511.3L998.9 526.4L981.5 526.4ZM995.1 506.5L1003.8 521.6L986.4 521.6ZM986.6 524.7L995.3 539.8L977.9 539.8ZM992.6 522.3L1001.3 537.4L983.9 537.4ZM1001.2 516.2L1009.9 531.3L992.5 531.3ZM996.3 500.4L1005.0 515.5L987.6 515.5ZM1003.6 502.8L1012.3 517.9L994.9 517.9ZM990.2 500.4L998.9 515.5L981.5 515.5ZM983.0 519.9L991.7 535.0L974.3 535.0ZM988.0 505.9L996.7 521.0L979.3 521.0ZM993.0 493.9L1001.7 509.1L984.3 509.1ZM1000.0 494.9L1008.7 510.1L991.3 510.1ZM1006.0 504.9L1014.7 520.0L997.3 520.0ZM979.4 522.2L988.1 537.3L970.7 537.3ZM981.7 512.9L990.4 528.0L973.0 528.0ZM984.7 502.9L993.4 518.0L976.0 518.0ZM987.7 493.9L996.4 509.1L979.0 509.1ZM990.7 484.9L999.4 500.1L982.0 500.1Z"/>
<path fill="#231f20" stroke="#231f20" stroke-width="0.8" stroke-linejoin="round" d="M994.9 480.2L1003.2 488.5L994.9 496.8L986.6 488.5ZM997.8 470.4L1006.1 478.7L997.8 487.0L989.5 478.7ZM1001.7 464.6L1010.0 472.9L1001.7 481.2L993.4 472.9ZM1009.5 450.9L1017.8 459.2L1009.5 467.5L1001.2 459.2ZM1016.3 442.4L1024.6 450.7L1016.3 459.0L1008.0 450.7ZM1018.5 440.2L1026.8 448.5L1018.5 456.8L1010.2 448.5ZM1024.3 439.5L1032.6 447.8L1024.3 456.1L1016.0 447.8ZM1030.1 438.1L1038.4 446.4L1030.1 454.7L1021.8 446.4ZM1037.9 440.2L1046.2 448.5L1037.9 456.8L1029.6 448.5ZM1044.5 444.6L1052.8 452.9L1044.5 461.2L1036.2 452.9ZM1037.9 450.9L1046.2 459.2L1037.9 467.5L1029.6 459.2ZM1032.3 457.3L1040.6 465.6L1032.3 473.9L1024.0 465.6ZM1023.5 474.8L1031.8 483.1L1023.5 491.4L1015.2 483.1ZM1018.5 471.4L1026.8 479.7L1018.5 488.0L1010.2 479.7ZM1005.8 479.2L1014.1 487.5L1005.8 495.8L997.5 487.5ZM1002.6 488.9L1010.9 497.2L1002.6 505.5L994.3 497.2ZM994.9 485.0L1003.2 493.3L994.9 501.6L986.6 493.3ZM1019.3 443.5L1027.6 451.8L1019.3 460.1L1011.0 451.8ZM1024.0 443.4L1032.3 451.7L1024.0 460.0L1015.7 451.7ZM1027.4 443.0L1035.7 451.3L1027.4 459.6L1019.1 451.3ZM1032.6 443.5L1040.9 451.8L1032.6 460.1L1024.3 451.8ZM1035.8 443.5L1044.1 451.8L1035.8 460.1L1027.5 451.8ZM1041.3 443.2L1049.6 451.5L1041.3 459.8L1033.0 451.5ZM1015.5 447.6L1023.8 455.9L1015.5 464.2L1007.2 455.9ZM1019.7 447.4L1028.0 455.7L1019.7 464.0L1011.4 455.7ZM1022.5 446.1L1030.8 454.4L1022.5 462.7L1014.2 454.4ZM1027.7 447.3L1036.0 455.6L1027.7 463.9L1019.4 455.6ZM1031.3 447.3L1039.6 455.6L1031.3 463.9L1023.0 455.6ZM1036.5 445.8L1044.8 454.1L1036.5 462.4L1028.2 454.1ZM1040.3 446.2L1048.6 454.5L1040.3 462.8L1032.0 454.5ZM1010.5 450.9L1018.8 459.2L1010.5 467.5L1002.2 459.2ZM1014.3 451.9L1022.6 460.2L1014.3 468.5L1006.0 460.2ZM1019.1 450.0L1027.4 458.3L1019.1 466.6L1010.8 458.3ZM1023.9 450.1L1032.2 458.4L1023.9 466.7L1015.6 458.4ZM1027.9 450.7L1036.2 459.0L1027.9 467.3L1019.6 459.0ZM1032.2 452.2L1040.5 460.5L1032.2 468.8L1023.9 460.5ZM1037.0 450.9L1045.3 459.2L1037.0 467.5L1028.7 459.2ZM1011.3 456.2L1019.6 464.5L1011.3 472.8L1003.0 464.5ZM1014.9 455.1L1023.2 463.4L1014.9 471.7L1006.6 463.4ZM1018.7 454.8L1027.0 463.1L1018.7 471.4L1010.4 463.1ZM1024.7 455.0L1033.0 463.3L1024.7 471.6L1016.4 463.3ZM1028.9 456.3L1037.2 464.6L1028.9 472.9L1020.6 464.6ZM1032.2 454.7L1040.5 463.0L1032.2 471.3L1023.9 463.0ZM1006.3 460.5L1014.6 468.8L1006.3 477.1L998.0 468.8ZM1011.7 458.9L1020.0 467.2L1011.7 475.5L1003.4 467.2ZM1014.6 458.7L1022.9 467.0L1014.6 475.3L1006.3 467.0ZM1020.6 459.0L1028.9 467.3L1020.6 475.6L1012.3 467.3ZM1023.9 459.4L1032.2 467.7L1023.9 476.0L1015.6 467.7ZM1028.1 459.7L1036.4 468.0L1028.1 476.3L1019.8 468.0ZM1003.5 463.8L1011.8 472.1L1003.5 480.4L995.2 472.1ZM1005.6 464.4L1013.9 472.7L1005.6 481.0L997.3 472.7ZM1010.8 463.9L1019.1 472.2L1010.8 480.5L1002.5 472.2ZM1015.7 464.0L1024.0 472.3L1015.7 480.6L1007.4 472.3ZM1019.4 464.7L1027.7 473.0L1019.4 481.3L1011.1 473.0ZM1023.3 463.4L1031.6 471.7L1023.3 480.0L1015.0 471.7ZM1028.6 463.0L1036.9 471.3L1028.6 479.6L1020.3 471.3ZM1003.3 466.9L1011.6 475.2L1003.3 483.5L995.0 475.2ZM1006.2 468.7L1014.5 477.0L1006.2 485.3L997.9 477.0ZM1011.7 468.3L1020.0 476.6L1011.7 484.9L1003.4 476.6ZM1014.1 468.4L1022.4 476.7L1014.1 485.0L1005.8 476.7ZM1020.5 469.1L1028.8 477.4L1020.5 485.7L1012.2 477.4ZM1024.1 466.8L1032.4 475.1L1024.1 483.4L1015.8 475.1ZM1002.8 472.7L1011.1 481.0L1002.8 489.3L994.5 481.0ZM1007.7 471.2L1016.0 479.5L1007.7 487.8L999.4 479.5ZM1010.8 471.7L1019.1 480.0L1010.8 488.3L1002.5 480.0ZM1015.4 472.1L1023.7 480.4L1015.4 488.7L1007.1 480.4ZM1020.5 471.8L1028.8 480.1L1020.5 488.4L1012.2 480.1ZM1022.5 472.6L1030.8 480.9L1022.5 489.2L1014.2 480.9ZM998.9 476.7L1007.2 485.0L998.9 493.3L990.6 485.0ZM1001.6 476.7L1009.9 485.0L1001.6 493.3L993.3 485.0ZM1005.8 475.4L1014.1 483.7L1005.8 492.0L997.5 483.7ZM1011.2 475.7L1019.5 484.0L1011.2 492.3L1002.9 484.0ZM998.1 479.6L1006.4 487.9L998.1 496.2L989.8 487.9ZM1003.4 480.9L1011.7 489.2L1003.4 497.5L995.1 489.2ZM999.3 483.9L1007.6 492.2L999.3 500.5L991.0 492.2ZM1002.0 484.2L1010.3 492.5L1002.0 500.8L993.7 492.5ZM1024.3 491.8L1032.6 500.1L1024.3 508.4L1016.0 500.1ZM1028.9 502.3L1037.2 510.6L1028.9 518.9L1020.6 510.6Z"/>
<path d="M725.0 732.00L728.7 732.00L732.3 732.00L736.0 732.00L739.7 732.00L743.3 732.00L747.0 732.00L750.7 732.00L754.4 732.00L758.0 732.00L761.7 732.00L765.4 732.00L769.0 732.00L772.7 732.00L776.4 732.00L780.0 732.06L783.7 732.14L787.4 732.21L791.0 732.29L794.7 732.36L798.4 732.44L802.1 732.51L805.7 732.47L809.4 732.44L813.1 732.40L816.7 732.36L820.4 732.32L824.1 732.28L827.7 732.23L831.4 732.12L835.1 732.00L838.7 731.87L842.4 731.72L846.1 731.55L849.8 731.35L853.4 731.11L857.1 730.83L860.8 730.49L864.4 730.07L868.1 729.55L871.8 728.87L875.4 727.99L879.1 726.98L882.8 725.78L886.4 724.18L890.1 722.05L893.8 719.53L897.5 716.58L901.1 713.13L904.8 709.20L908.5 704.72L912.1 699.62L915.8 694.05L919.5 687.92L923.1 681.58L926.8 674.54L930.5 666.81L934.1 658.53L937.8 649.64L941.5 640.17L945.2 630.11L948.8 619.62L952.5 608.76L956.2 597.47L959.8 586.02L963.5 574.28L967.2 562.48L970.8 550.81L974.5 539.37L978.2 528.25L981.8 517.54L985.5 507.33L989.2 497.69L992.9 488.71L996.5 480.42L1000.2 472.88L1003.9 466.16L1007.5 460.28L1011.2 455.22L1014.9 450.99L1018.5 447.59L1022.2 445.00L1025.9 443.19L1029.5 442.18L1033.2 441.90L1036.9 442.24L1040.6 443.22L1044.2 444.84L1047.9 447.08L1051.6 449.90L1055.2 453.25L1058.9 457.12L1062.6 461.47L1066.2 466.25L1069.9 471.41L1073.6 476.93L1077.2 482.74L1080.9 488.75L1084.6 494.99L1088.3 501.41L1091.9 507.97L1095.6 514.65L1099.3 521.40L1102.9 528.23L1106.6 535.14L1110.3 542.04L1113.9 548.90L1117.6 555.71L1121.3 562.41L1124.9 569.02L1128.6 575.54L1132.3 581.97L1136.0 588.28L1139.6 594.43L1143.3 600.44L1147.0 606.28L1150.6 611.79L1154.3 617.16L1158.0 622.36L1161.6 627.39L1165.3 632.24L1169.0 636.91L1172.6 641.41L1176.3 645.74L1180.0 649.82L1183.7 653.86L1187.3 657.74L1191.0 661.46L1194.7 665.01L1198.3 668.42L1202.0 671.67L1205.7 674.72L1209.3 677.63L1213.0 680.41L1216.7 683.05L1220.3 685.56L1224.0 687.96L1227.7 690.25L1231.4 692.48L1235.0 694.60L1238.7 696.62L1242.4 698.54L1246.0 700.36L1249.7 702.02L1253.4 703.60L1257.0 705.14L1260.7 706.61L1264.4 707.99L1268.0 709.31L1271.7 710.56L1275.4 711.74L1279.1 712.87L1282.7 713.94L1286.4 714.95L1290.1 715.92L1293.7 716.83L1297.4 717.70L1301.1 718.52L1304.7 719.28L1308.4 719.99L1312.1 720.66L1315.7 721.29L1319.4 721.89L1323.1 722.46L1326.8 723.00L1330.4 723.56L1334.1 724.09L1337.8 724.60L1341.4 725.09L1345.1 725.51" fill="none" stroke="#231f20" stroke-width="3.8" stroke-linejoin="round" clip-path="url(#cr)"/>
</g>
<g fill="#231f20">
<rect x="94.55" y="36" width="3.6" height="321"/>
<rect x="94.55" y="426.1" width="3.6" height="322.7"/>
<rect x="94.55" y="745.1" width="616.35" height="3.7"/>
<rect x="726.9" y="745.1" width="614.3" height="3.7"/>
<rect x="88.1" y="338.95" width="6.6" height="6.3"/>
<rect x="88.1" y="265.98" width="6.6" height="6.3"/>
<rect x="88.1" y="193.00" width="6.6" height="6.3"/>
<rect x="88.1" y="120.03" width="6.6" height="6.3"/>
<rect x="88.1" y="47.05" width="6.6" height="6.3"/>
<rect x="88.1" y="729.05" width="6.6" height="6.3"/>
<rect x="88.1" y="656.08" width="6.6" height="6.3"/>
<rect x="88.1" y="583.10" width="6.6" height="6.3"/>
<rect x="88.1" y="510.13" width="6.6" height="6.3"/>
<rect x="88.1" y="437.15" width="6.6" height="6.3"/>
<rect x="121.21" y="748.6" width="6.4" height="6.3"/>
<rect x="260.78" y="748.6" width="6.4" height="6.3"/>
<rect x="400.35" y="748.6" width="6.4" height="6.3"/>
<rect x="539.92" y="748.6" width="6.4" height="6.3"/>
<rect x="679.49" y="748.6" width="6.4" height="6.3"/>
<rect x="751.61" y="748.6" width="6.4" height="6.3"/>
<rect x="891.18" y="748.6" width="6.4" height="6.3"/>
<rect x="1030.75" y="748.6" width="6.4" height="6.3"/>
<rect x="1170.32" y="748.6" width="6.4" height="6.3"/>
<rect x="1309.89" y="748.6" width="6.4" height="6.3"/>
</g>
<g fill="#6d6e71" stroke="#6d6e71" stroke-width="0.4" font-size="25.4px">
<text transform="translate(81.4 351.10) scale(0.915 1)" text-anchor="end">0.00</text>
<text transform="translate(81.4 278.12) scale(0.915 1)" text-anchor="end">0.25</text>
<text transform="translate(81.4 205.15) scale(0.915 1)" text-anchor="end">0.50</text>
<text transform="translate(81.4 132.18) scale(0.915 1)" text-anchor="end">0.75</text>
<text transform="translate(81.4 59.20) scale(0.915 1)" text-anchor="end">1.00</text>
<text transform="translate(81.4 741.20) scale(0.915 1)" text-anchor="end">0.00</text>
<text transform="translate(81.4 668.23) scale(0.915 1)" text-anchor="end">0.25</text>
<text transform="translate(81.4 595.25) scale(0.915 1)" text-anchor="end">0.50</text>
<text transform="translate(81.4 522.28) scale(0.915 1)" text-anchor="end">0.75</text>
<text transform="translate(81.4 449.30) scale(0.915 1)" text-anchor="end">1.00</text>
<text transform="translate(124.41 778.9) scale(0.915 1)" text-anchor="middle">0.8</text>
<text transform="translate(263.98 778.9) scale(0.915 1)" text-anchor="middle">0.9</text>
<text transform="translate(403.55 778.9) scale(0.915 1)" text-anchor="middle">1.0</text>
<text transform="translate(543.12 778.9) scale(0.915 1)" text-anchor="middle">1.1</text>
<text transform="translate(682.69 778.9) scale(0.915 1)" text-anchor="middle">1.2</text>
<text transform="translate(754.81 778.9) scale(0.915 1)" text-anchor="middle">0.8</text>
<text transform="translate(894.38 778.9) scale(0.915 1)" text-anchor="middle">0.9</text>
<text transform="translate(1033.95 778.9) scale(0.915 1)" text-anchor="middle">1.0</text>
<text transform="translate(1173.52 778.9) scale(0.915 1)" text-anchor="middle">1.1</text>
<text transform="translate(1313.09 778.9) scale(0.915 1)" text-anchor="middle">1.2</text>
</g>
<text transform="translate(404.4 18.9) scale(0.827 1)" font-size="26.8px" fill="#3c3c3c" stroke="#3c3c3c" stroke-width="0.5" text-anchor="middle">ECR</text>
<text transform="translate(1035.0 18.9) scale(0.841 1)" font-size="26.8px" fill="#3c3c3c" stroke="#3c3c3c" stroke-width="0.5" text-anchor="middle">EDC</text>
<text transform="translate(404.45 409) scale(0.795 1)" font-size="26.8px" fill="#3c3c3c" stroke="#3c3c3c" stroke-width="0.5" text-anchor="middle">FCR</text>
<text transform="translate(1034.85 409) scale(0.807 1)" font-size="26.8px" fill="#3c3c3c" stroke="#3c3c3c" stroke-width="0.5" text-anchor="middle">FDS</text>
<text transform="translate(719.1 814.8) scale(0.955 1)" font-size="28px" fill="#231f20" stroke="#231f20" stroke-width="0.5" text-anchor="middle">Length</text>
<text transform="translate(19.1 390.9) rotate(-90) scale(0.887 1)" font-size="28px" fill="#231f20" stroke="#231f20" stroke-width="0.5" text-anchor="middle">Force</text>
<text transform="translate(1390.2 291) scale(1.02 1)" font-size="21px" fill="#231f20" stroke="#231f20" stroke-width="0.4" text-anchor="start">Condition</text>
<text transform="translate(1486.0 339.5) scale(0.7 1)" font-size="24px" fill="#231f20" stroke="#231f20" stroke-width="0.4" text-anchor="start">E</text>
<text transform="translate(1485.7 391.2) scale(0.92 1)" font-size="24px" fill="#231f20" stroke="#231f20" stroke-width="0.4" text-anchor="start">N</text>
<text transform="translate(1486.0 442.6) scale(0.76 1)" font-size="24px" fill="#231f20" stroke="#231f20" stroke-width="0.4" text-anchor="start">F</text>
<text transform="translate(1485.3 494.2) scale(0.78 1)" font-size="24px" fill="#231f20" stroke="#231f20" stroke-width="0.4" text-anchor="start">S</text>
<path fill="#d1d3d4" stroke="#d1d3d4" stroke-width="1.4" stroke-linejoin="round" d="M1432.5 353.5L1451.8 319.9L1413.1 319.9Z"/>
<circle cx="1432.45" cy="383.1" r="15.35" fill="#b3b5b7"/>
<path fill="#929497" stroke="#929497" stroke-width="1.4" stroke-linejoin="round" d="M1432.5 411.9L1451.8 445.5L1413.1 445.5Z"/>
<path fill="#231f20" stroke="#231f20" stroke-width="1.4" stroke-linejoin="round" d="M1432.5 467.5L1450.4 485.4L1432.5 503.3L1414.5 485.4Z"/>
</svg></body></html>
